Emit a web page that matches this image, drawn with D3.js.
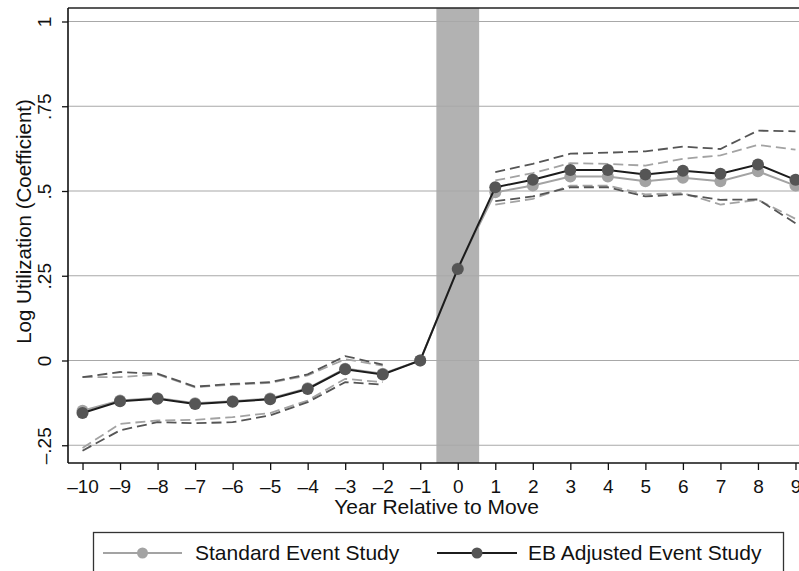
<!DOCTYPE html>
<html>
<head>
<meta charset="utf-8">
<script src="https://cdn.jsdelivr.net/npm/d3@7"></script>
<style>
  html, body { margin: 0; padding: 0; background: #fff; }
  svg { display: block; font-family: "Liberation Sans", Arial, Helvetica, sans-serif; }
</style>
</head>
<body>
<svg id="chart" width="799" height="571"></svg>
<script>
// ---- data ----
const years = [-10,-9,-8,-7,-6,-5,-4,-3,-2,-1,0,1,2,3,4,5,6,7,8,9];
const ebCoef = [-0.155,-0.120,-0.113,-0.128,-0.122,-0.114,-0.084,-0.026,-0.041,0,0.270,0.511,0.533,0.562,0.562,0.549,0.560,0.551,0.578,0.533];
const stdCoef = [-0.148,-0.118,-0.111,-0.126,-0.120,-0.112,-0.082,-0.024,-0.039,0,0.272,0.496,0.516,0.543,0.543,0.529,0.539,0.529,0.558,0.516];

const ciYearsPre = [-10,-9,-8,-7,-6,-5,-4,-3,-2];
const ciYearsPost = [1,2,3,4,5,6,7,8,9];
const ebUpperPre  = [-0.049,-0.034,-0.039,-0.077,-0.069,-0.064,-0.041,0.013,-0.012];
const ebLowerPre  = [-0.266,-0.206,-0.182,-0.185,-0.182,-0.162,-0.123,-0.064,-0.071];
const stdUpperPre = [-0.049,-0.049,-0.041,-0.079,-0.071,-0.066,-0.044,0.004,-0.015];
const stdLowerPre = [-0.258,-0.187,-0.177,-0.175,-0.167,-0.155,-0.118,-0.054,-0.064];
const ebUpperPost  = [0.556,0.580,0.610,0.613,0.617,0.631,0.624,0.678,0.676];
const ebLowerPost  = [0.470,0.484,0.511,0.511,0.484,0.490,0.474,0.475,0.405];
const stdUpperPost = [0.531,0.553,0.582,0.580,0.575,0.595,0.605,0.636,0.622];
const stdLowerPost = [0.460,0.477,0.516,0.516,0.490,0.494,0.460,0.474,0.418];

const yTicks = [-0.25, 0, 0.25, 0.5, 0.75, 1];
const yTickLabels = ["\u2013.25", "0", ".25", ".5", ".75", "1"];
const xTicks = years;
const xTickLabel = d => d < 0 ? "\u2013" + Math.abs(d) : String(d);
const shadeRange = [-0.57, 0.57];
const seriesNames = ["Standard Event Study", "EB Adjusted Event Study"];

// ---- layout ----
const svg = d3.select("#chart");
const plotLeft = 68, plotTop = 8, plotBottom = 463;
const x = d3.scaleLinear().domain([-10.387, 9.387]).range([plotLeft, 810]);
const y = d3.scaleLinear().domain([0, 1]).range([360.5, 21.5]);

const colStd = "#a3a3a3", colEb = "#555555", colEbLine = "#1c1c1c";
const FONT = "Liberation Sans, Arial, sans-serif";

// shaded band
svg.append("rect")
  .attr("x", x(shadeRange[0])).attr("y", plotTop)
  .attr("width", x(shadeRange[1]) - x(shadeRange[0]))
  .attr("height", plotBottom - plotTop)
  .attr("fill", "#b2b2b2");

// gridlines
svg.append("g").selectAll("line").data(yTicks).join("line")
  .attr("x1", plotLeft).attr("x2", 799)
  .attr("y1", d => y(d)).attr("y2", d => y(d))
  .attr("stroke", "#a8a8a8").attr("stroke-width", 1.2);

// top frame
svg.append("line").attr("x1", plotLeft).attr("x2", 799)
  .attr("y1", plotTop).attr("y2", plotTop)
  .attr("stroke", "#222").attr("stroke-width", 1.6);

// y axis
const yAxis = d3.axisLeft(y).tickValues(yTicks).tickSize(6).tickPadding(0)
  .tickFormat((d, i) => yTickLabels[i]);
const gy = svg.append("g").attr("transform", `translate(${plotLeft},0)`).call(yAxis);
gy.select(".domain").attr("d", `M0,${plotTop}V${plotBottom}`).attr("stroke", "#111").attr("stroke-width", 1.6);
gy.selectAll(".tick line").attr("stroke", "#111").attr("stroke-width", 1.3);
gy.selectAll(".tick text")
  .attr("x", 0).attr("y", 0).attr("dy", null)
  .attr("text-anchor", "middle")
  .attr("transform", "translate(-17,0) rotate(-90)")
  .attr("font-size", 19).attr("fill", "#111")
  .attr("font-family", FONT);

// x axis
const xAxis = d3.axisBottom(x).tickValues(xTicks).tickSize(7).tickPadding(4)
  .tickFormat(xTickLabel);
const gx = svg.append("g").attr("transform", `translate(0,${plotBottom})`).call(xAxis);
gx.select(".domain").attr("d", `M${plotLeft},0H810`).attr("stroke", "#111").attr("stroke-width", 1.6);
gx.selectAll(".tick line").attr("stroke", "#111").attr("stroke-width", 1.3);
gx.selectAll(".tick text").attr("y", 29.5).attr("dy", null)
  .attr("font-size", 19).attr("fill", "#111")
  .attr("font-family", FONT);

// axis titles
svg.append("text").attr("transform", "translate(30.5,221.5) rotate(-90)")
  .attr("text-anchor", "middle").attr("font-size", 20.5).attr("fill", "#111")
  .text("Log Utilization (Coefficient)");
svg.append("text").attr("x", 436.5).attr("y", 514)
  .attr("text-anchor", "middle").attr("font-size", 21).attr("fill", "#111")
  .text("Year Relative to Move");

// CI dashed lines
const line = d3.line().x(d => x(d[0])).y(d => y(d[1]));
function dashed(xs, vals, color) {
  svg.append("path").datum(xs.map((v, i) => [v, vals[i]]))
    .attr("d", line).attr("fill", "none")
    .attr("stroke", color).attr("stroke-width", 1.8)
    .attr("stroke-dasharray", "10,5");
}
dashed(ciYearsPre, stdUpperPre, colStd);
dashed(ciYearsPre, stdLowerPre, colStd);
dashed(ciYearsPost, stdUpperPost, colStd);
dashed(ciYearsPost, stdLowerPost, colStd);
dashed(ciYearsPre, ebUpperPre, colEb);
dashed(ciYearsPre, ebLowerPre, colEb);
dashed(ciYearsPost, ebUpperPost, colEb);
dashed(ciYearsPost, ebLowerPost, colEb);

// standard series
svg.append("path").datum(years.map((v, i) => [v, stdCoef[i]]))
  .attr("d", line).attr("fill", "none").attr("stroke", colStd).attr("stroke-width", 2);
svg.append("g").selectAll("circle").data(years.map((v, i) => [v, stdCoef[i]])).join("circle")
  .attr("cx", d => x(d[0])).attr("cy", d => y(d[1])).attr("r", 6).attr("fill", colStd);

// EB series
svg.append("path").datum(years.map((v, i) => [v, ebCoef[i]]))
  .attr("d", line).attr("fill", "none").attr("stroke", colEbLine).attr("stroke-width", 2);
svg.append("g").selectAll("circle").data(years.map((v, i) => [v, ebCoef[i]])).join("circle")
  .attr("cx", d => x(d[0])).attr("cy", d => y(d[1])).attr("r", 6).attr("fill", colEb);

// legend
const lg = svg.append("g");
lg.append("rect").attr("x", 93.5).attr("y", 532.5).attr("width", 690).attr("height", 60)
  .attr("fill", "#fff").attr("stroke", "#333").attr("stroke-width", 1.3);
const legItems = [
  {name: seriesNames[0], lc: colStd, pc: colStd, x0: 103, x1: 182, tx: 195},
  {name: seriesNames[1], lc: colEbLine, pc: colEb, x0: 437, x1: 517, tx: 528}
];
legItems.forEach(it => {
  lg.append("line").attr("x1", it.x0).attr("x2", it.x1).attr("y1", 553).attr("y2", 553)
    .attr("stroke", it.lc).attr("stroke-width", 1.8);
  lg.append("circle").attr("cx", (it.x0 + it.x1) / 2).attr("cy", 553).attr("r", 5.5).attr("fill", it.pc);
  lg.append("text").attr("x", it.tx).attr("y", 560).attr("font-size", 21).attr("fill", "#111").text(it.name);
});
</script>
</body>
</html>
